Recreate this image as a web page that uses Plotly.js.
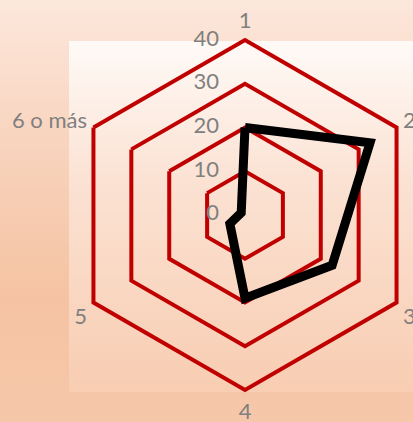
<!DOCTYPE html>
<html>
<head>
<meta charset="utf-8">
<script src="https://cdn.plot.ly/plotly-3.0.1.min.js"></script>
<style>
  html, body { margin: 0; padding: 0; width: 413px; height: 422px; overflow: hidden; }
  #bg { position: absolute; left: 0; top: 0; width: 413px; height: 422px;
        background: linear-gradient(to bottom, #FCE7DB 0%, #F8D3BD 35%, #F5C3A2 70%, #F6C7AA 100%); }
  #inner { position: absolute; left: 69px; top: 41px; width: 360px; height: 351px;
        background: linear-gradient(to bottom, #FFFAF7 0%, #FBE2D3 40%, #F8CDB2 100%); }
  #chart { position: absolute; left: 0; top: 0; width: 500px; height: 422px; }
</style>
</head>
<body>
<div id="bg"></div>
<div id="inner"></div>
<div id="chart"></div>
<script>
const categories = ["1", "2", "3", "4", "5", "6 o más"];
const values = [20, 33, 23, 19, 4, 1];
const radialTicks = [0, 10, 20, 30, 40];
const radialTickLabels = ["0", "10", "20", "30", "40"];

const W = 500, H = 422;
const cx = 245, cy = 215, R = 175;

const trace = {
  type: "scatterpolar",
  r: values.concat([values[0]]),
  theta: categories.concat([categories[0]]),
  mode: "lines",
  line: { color: "#000000", width: 9 },
  hoverinfo: "skip"
};

// radial tick labels, placed left of the vertical axis through category "1"
// (the centre tick is nudged off r=0 so Plotly does not treat it as outside the range)
const tickTrace = {
  type: "scatterpolar",
  r: radialTicks.map(v => Math.max(v, 0.05)),
  theta: radialTicks.map(() => categories[0]),
  mode: "markers+text",
  text: radialTickLabels,
  textposition: "middle left",
  marker: { size: 40, color: "rgba(0,0,0,0)" },
  textfont: { size: 22, color: "#808080", family: "Lato, 'Liberation Sans', sans-serif" },
  cliponaxis: false,
  hoverinfo: "skip"
};

const layout = {
  width: W, height: H,
  margin: { l: 0, r: 0, t: 0, b: 0 },
  paper_bgcolor: "rgba(0,0,0,0)",
  plot_bgcolor: "rgba(0,0,0,0)",
  showlegend: false,
  font: { family: "Lato, 'Liberation Sans', sans-serif", size: 22, color: "#808080" },
  polar: {
    domain: { x: [(cx - R) / W, (cx + R) / W], y: [(H - cy - R) / H, (H - cy + R) / H] },
    bgcolor: "rgba(0,0,0,0)",
    gridshape: "linear",
    radialaxis: {
      range: [0, 40],
      tickvals: radialTicks.filter(v => v > 0),
      showticklabels: false,
      angle: 90,
      showline: false,
      ticks: "",
      gridcolor: "#C00000",
      gridwidth: 4
    },
    angularaxis: {
      type: "category",
      categoryarray: categories,
      rotation: 90,
      direction: "clockwise",
      showgrid: false,
      showline: true,
      linecolor: "#C00000",
      linewidth: 4,
      ticks: "outside",
      ticklen: 1,
      tickcolor: "rgba(0,0,0,0)",
      tickfont: { size: 22, color: "#808080" }
    }
  }
};

Plotly.newPlot("chart", [tickTrace, trace], layout, { displayModeBar: false, staticPlot: true });
</script>
</body>
</html>
